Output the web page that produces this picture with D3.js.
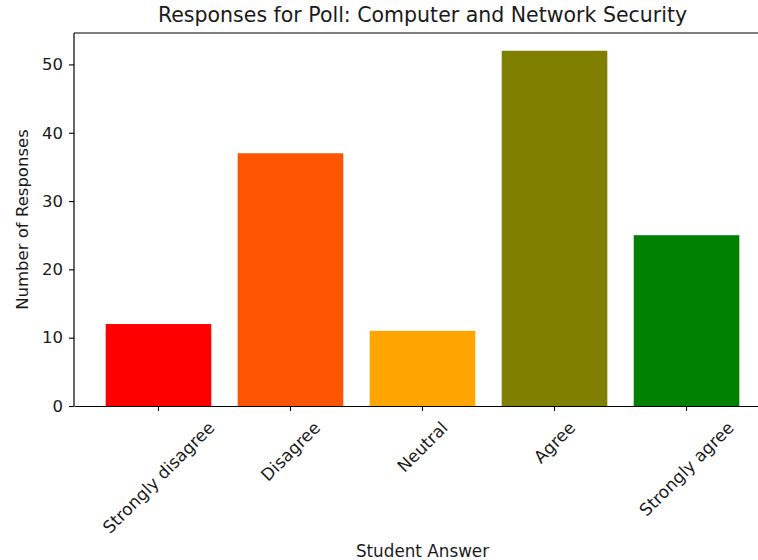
<!DOCTYPE html>
<html>
<head>
<meta charset="utf-8">
<script src="https://cdn.jsdelivr.net/npm/d3@7"></script>
<style>
  body { margin: 0; background: #fff; }
  text { font-family: "DejaVu Sans", sans-serif; fill: #1a1a1a; }
</style>
</head>
<body>
<div id="plot"></div>
<script>
// data
let categories = ['Strongly disagree', 'Disagree', 'Neutral', 'Agree', 'Strongly agree'];
let counts = [12, 37, 11, 52, 25];
let barColors = ['#ff0000', '#ff5500', '#ffa500', '#808000', '#008000'];
let yTicks = [0, 10, 20, 30, 40, 50];

let width = 758, height = 560;
let tickFont = 17;

let margin = {
  top: 33,
  bottom: 154,
  left: 74,
  right: -13   // axes run a bit past the right edge, like the original
};

let svg = d3.select('#plot')
  .append('svg')
  .attr('width', width)
  .attr('height', height);

let yScale = d3.scaleLinear()
  .domain([0, d3.max(counts) * 1.05])
  .range([height - margin.bottom, margin.top]);

let xScale = d3.scaleBand()
  .domain(categories)
  .range([margin.left, width - margin.right])
  .paddingInner(0.2)
  .paddingOuter(0.24);

// bars
svg.selectAll('rect.bar')
  .data(categories)
  .enter()
  .append('rect')
  .attr('class', 'bar')
  .attr('x', d => xScale(d))
  .attr('y', (d, i) => yScale(counts[i]))
  .attr('width', xScale.bandwidth())
  .attr('height', (d, i) => yScale(0) - yScale(counts[i]))
  .attr('fill', (d, i) => barColors[i]);

// y axis
let yAxis = svg.append('g')
  .attr('transform', `translate(${margin.left},0)`)
  .call(d3.axisLeft(yScale).tickValues(yTicks).tickSize(5).tickPadding(6).tickFormat(d3.format('d')));

// x axis
let xAxis = svg.append('g')
  .attr('transform', `translate(0,${height - margin.bottom})`)
  .call(d3.axisBottom(xScale).tickSize(5).tickSizeOuter(0).tickFormat(''));

// top spine + right spine (right one falls outside the picture)
svg.append('line')
  .attr('x1', margin.left).attr('x2', width - margin.right)
  .attr('y1', margin.top).attr('y2', margin.top)
  .attr('stroke', '#000').attr('stroke-width', 1.2);
svg.append('line')
  .attr('x1', width - margin.right).attr('x2', width - margin.right)
  .attr('y1', margin.top).attr('y2', height - margin.bottom)
  .attr('stroke', '#000').attr('stroke-width', 1.2);

svg.selectAll('.domain').attr('stroke', '#000').attr('stroke-width', 1.2);
svg.selectAll('.tick line').attr('stroke', '#000').attr('stroke-width', 1.1);
yAxis.selectAll('text').style('font-size', '16.5px').attr('fill', '#1a1a1a');
yAxis.select('.domain').attr('d', `M0,${margin.top}V${height - margin.bottom}`);

// rotated category labels, centred under each tick like matplotlib's rotation=45
let labelTop = height - margin.bottom + 12;
let labels = svg.append('g');
categories.forEach(c => {
  let t = labels.append('text')
    .text(c)
    .style('font-size', tickFont + 'px')
    .attr('text-anchor', 'middle')
    .attr('dominant-baseline', 'central');
  let w = t.node().getComputedTextLength();
  let h = tickFont * 1.1;
  let half = (w + h) * Math.SQRT1_2 / 2;
  t.attr('transform', `translate(${xScale(c) + xScale.bandwidth() / 2},${labelTop + half}) rotate(-45)`);
});

// title and axis labels
let plotMid = (margin.left + width - margin.right) / 2;
svg.append('text')
  .attr('x', plotMid)
  .attr('y', 22)
  .attr('text-anchor', 'middle')
  .style('font-size', '20.5px')
  .text('Responses for Poll: Computer and Network Security');

svg.append('text')
  .attr('x', plotMid)
  .attr('y', 557)
  .attr('text-anchor', 'middle')
  .style('font-size', '16.8px')
  .text('Student Answer');

svg.append('text')
  .attr('transform', `translate(28,${(margin.top + height - margin.bottom) / 2}) rotate(-90)`)
  .attr('text-anchor', 'middle')
  .style('font-size', '16.5px')
  .text('Number of Responses');
</script>
</body>
</html>
